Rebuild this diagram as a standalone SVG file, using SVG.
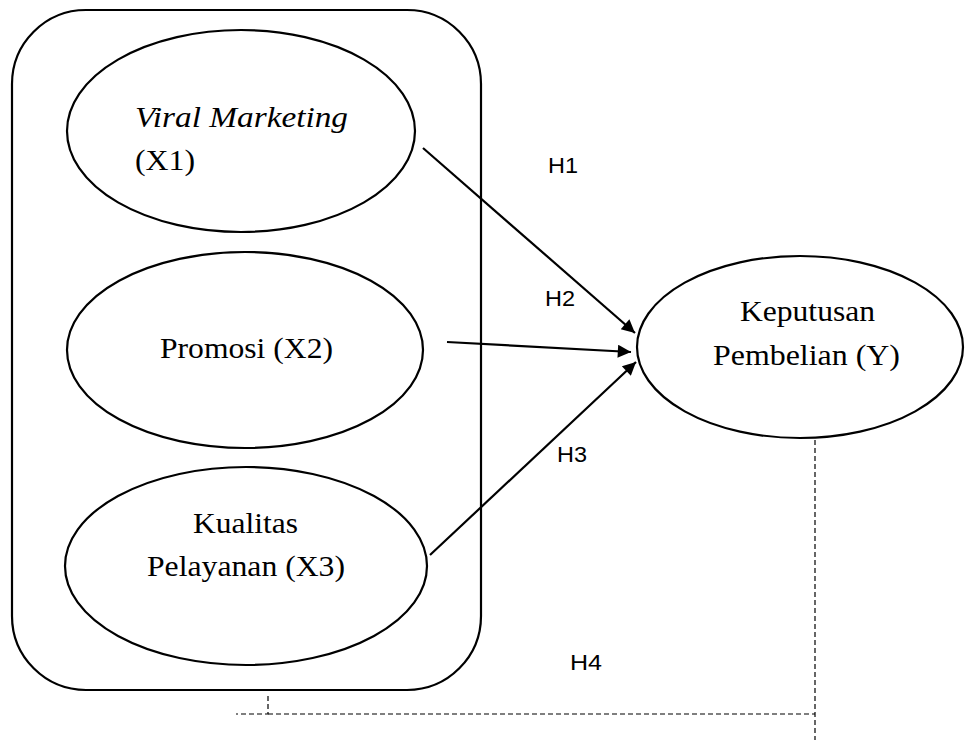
<svg xmlns="http://www.w3.org/2000/svg" width="968" height="740" viewBox="0 0 968 740">
<style>
.shape{fill:none;stroke:#000;stroke-width:2.2}
.lbl{font-family:"Liberation Serif","Times New Roman",serif;font-size:29px;fill:#000}
.h{font-family:"Liberation Sans",Arial,sans-serif;font-size:22px;fill:#000}
.arrow{stroke:#000;stroke-width:2.2;fill:none;marker-end:url(#ah)}
.dash{stroke:#000;stroke-width:1.2;fill:none;stroke-dasharray:5 3}
</style>
<defs>
<marker id="ah" viewBox="0 0 10 10" refX="10" refY="5" markerWidth="7.5" markerHeight="6" markerUnits="strokeWidth" orient="auto">
<path d="M0,0 L10,5 L0,10 z" fill="#000"/>
</marker>
</defs>
<rect width="968" height="740" fill="#fff"/>
<g id="group-box">
<rect class="shape" x="12" y="10" width="469" height="680" rx="74" ry="74"/>
</g>
<g id="node-x1">
<ellipse class="shape" cx="241" cy="131" rx="174" ry="101"/>
<text class="lbl" x="135" y="127" font-style="italic" textLength="213" lengthAdjust="spacingAndGlyphs">Viral  Marketing</text>
<text class="lbl" x="135" y="170" textLength="60" lengthAdjust="spacingAndGlyphs">(X1)</text>
</g>
<g id="node-x2">
<ellipse class="shape" cx="245" cy="350" rx="178" ry="98"/>
<text class="lbl" x="160" y="358" textLength="173" lengthAdjust="spacingAndGlyphs">Promosi (X2)</text>
</g>
<g id="node-x3">
<ellipse class="shape" cx="246" cy="566" rx="181" ry="99"/>
<text class="lbl" x="193" y="533" textLength="105" lengthAdjust="spacingAndGlyphs">Kualitas</text>
<text class="lbl" x="147" y="576" textLength="198" lengthAdjust="spacingAndGlyphs">Pelayanan (X3)</text>
</g>
<g id="node-y">
<ellipse class="shape" cx="800" cy="347" rx="163" ry="91"/>
<text class="lbl" x="740" y="321" textLength="135" lengthAdjust="spacingAndGlyphs">Keputusan</text>
<text class="lbl" x="713" y="365" textLength="187" lengthAdjust="spacingAndGlyphs">Pembelian (Y)</text>
</g>
<g id="connectors">
<line class="arrow" x1="423" y1="148" x2="635" y2="333"/>
<line class="arrow" x1="447" y1="342" x2="631" y2="352"/>
<line class="arrow" x1="430" y1="555" x2="636" y2="362"/>
<polyline class="dash" points="268,696 268,714 236,714"/>
<line class="dash" x1="268" y1="714" x2="815" y2="714"/>
<line class="dash" x1="815" y1="440" x2="815" y2="740"/>
</g>
<g id="labels">
<text class="h" x="548" y="173" textLength="30" lengthAdjust="spacingAndGlyphs">H1</text>
<text class="h" x="545" y="306" textLength="30" lengthAdjust="spacingAndGlyphs">H2</text>
<text class="h" x="557" y="462" textLength="30" lengthAdjust="spacingAndGlyphs">H3</text>
<text class="h" x="570" y="670" textLength="32" lengthAdjust="spacingAndGlyphs">H4</text>
</g>
</svg>
